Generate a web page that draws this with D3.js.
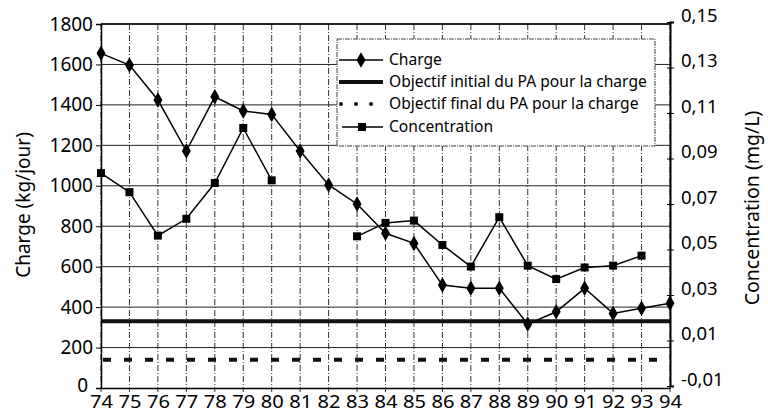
<!DOCTYPE html>
<html><head><meta charset="utf-8">
<script src="https://cdn.jsdelivr.net/npm/d3@7"></script>
<style>
body{margin:0;background:#fff;}
svg{display:block;font-family:"Noto Sans",sans-serif;}
</style></head>
<body><svg id="c" width="768" height="415"></svg>
<script>
const years = ["74","75","76","77","78","79","80","81","82","83","84","85","86","87","88","89","90","91","92","93","94"];
const charge = [1655,1597,1424,1172,1440,1370,1353,1172,1004,910,765,715,509,493,493,316,377,493,369,394,419];
const concentration = [0.0836,0.0752,0.0561,0.0635,0.0792,0.1034,0.0804,null,null,0.0558,0.0617,0.0627,0.052,0.0425,0.0642,0.0429,0.037,0.0421,0.0429,0.0473,null];
const objectifInitial = 330;
const objectifFinal = 140;
const leftTicks = [0,200,400,600,800,1000,1200,1400,1600,1800];
const rightTicks = [-0.01,0.01,0.03,0.05,0.07,0.09,0.11,0.13,0.15];
const legendLabels = ["Charge","Objectif initial du PA pour la charge","Objectif final du PA pour la charge","Concentration"];

const svg = d3.select("#c");
const x = d3.scalePoint().domain(years).range([101,670]);
const yL = d3.scaleLinear().domain([0,1800]).range([388,24]);
const yR = d3.scaleLinear().domain([-0.01,0.15]).range([386,22]);

// horizontal gridlines
svg.append("g").selectAll("line").data(leftTicks.filter(d=>d>0)).join("line")
  .attr("x1",101).attr("x2",670).attr("y1",d=>yL(d)).attr("y2",d=>yL(d))
  .attr("stroke","#222").attr("stroke-width",1);
// vertical dash-dot gridlines
svg.append("g").selectAll("line").data(years).join("line")
  .attr("x1",d=>x(d)).attr("x2",d=>x(d)).attr("y1",24).attr("y2",392)
  .attr("stroke","#333").attr("stroke-width",1).attr("stroke-dasharray","6,2,1,2");

// objectives
svg.append("line").attr("x1",101).attr("x2",670).attr("y1",yL(objectifInitial)).attr("y2",yL(objectifInitial))
  .attr("stroke","#111").attr("stroke-width",4);
svg.append("line").attr("x1",103).attr("x2",670).attr("y1",yL(objectifFinal)).attr("y2",yL(objectifFinal))
  .attr("stroke","#111").attr("stroke-width",4).attr("stroke-dasharray","8,13");

// axes
const axL = svg.append("g").attr("transform","translate(101,0)")
  .call(d3.axisLeft(yL).tickValues(leftTicks).tickSize(5).tickFormat(d3.format("d")));
axL.select(".domain").attr("stroke","#000").attr("stroke-width",1.5);
axL.selectAll("text").attr("font-size",19).attr("font-family","Noto Sans").attr("fill","#000").attr("x",-8);
axL.selectAll(".tick").filter(d=>d===0).select("text").attr("x",-13).attr("dy","0.2em");

const axR = svg.append("g").attr("transform","translate(670,0)")
  .call(d3.axisRight(yR).tickValues(rightTicks).tickSize(4).tickFormat(d=>d3.format(".2f")(d).replace(".",",").replace("−","-")));
axR.select(".domain").attr("stroke","#000").attr("stroke-width",2);
axR.selectAll(".tick line").attr("x1",-3);
axR.selectAll("text").attr("font-size",18.5).attr("font-family","Noto Sans").attr("fill","#000").attr("x",11).attr("dy","-0.05em");

const axB = svg.append("g").attr("transform","translate(0,388)")
  .call(d3.axisBottom(x).tickSize(0).tickPadding(7));
axB.select(".domain").attr("stroke","#000").attr("stroke-width",1.5);
axB.selectAll("text").attr("font-size",18).attr("font-family","Noto Sans").attr("fill","#000").attr("textLength",23).attr("lengthAdjust","spacingAndGlyphs");

// top border
svg.append("line").attr("x1",101).attr("x2",670).attr("y1",24).attr("y2",24).attr("stroke","#000").attr("stroke-width",1.5);

// axis titles
svg.append("text").attr("transform","translate(30,205) rotate(-90)").attr("text-anchor","middle")
  .attr("font-size",19).text("Charge (kg/jour)");
svg.append("text").attr("transform","translate(759,208) rotate(-90)").attr("text-anchor","middle")
  .attr("font-size",19.5).text("Concentration (mg/L)");

// series lines
const lineC = d3.line().x((d,i)=>x(years[i])).y(d=>yL(d));
svg.append("path").datum(charge).attr("d",lineC).attr("fill","none").attr("stroke","#000").attr("stroke-width",1.5);
const lineK = d3.line().defined(d=>d!==null).x((d,i)=>x(years[i])).y(d=>yR(d));
svg.append("path").datum(concentration).attr("d",lineK).attr("fill","none").attr("stroke","#000").attr("stroke-width",1.5);

// markers
const diamond = d3.symbol().type(d3.symbolDiamond).size(70);
svg.append("g").selectAll("path").data(charge).join("path")
  .attr("transform",(d,i)=>`translate(${x(years[i])},${yL(d)})`).attr("d",diamond).attr("fill","#000");
const square = d3.symbol().type(d3.symbolSquare).size(64);
svg.append("g").selectAll("path").data(concentration.map((v,i)=>({v,i})).filter(d=>d.v!==null)).join("path")
  .attr("transform",d=>`translate(${x(years[d.i])},${yR(d.v)})`).attr("d",square).attr("fill","#000");

// legend
const lg = svg.append("g");
lg.append("rect").attr("x",337).attr("y",39).attr("width",318).attr("height",107)
  .attr("fill","#fff").attr("stroke","#444").attr("stroke-width",1).attr("stroke-dasharray","5,1,1,1");
const ly = [60,82,104,127];
lg.selectAll("text").data(legendLabels).join("text")
  .attr("x",389).attr("y",(d,i)=>ly[i]).attr("dy","0.35em").attr("font-size",15.6).attr("fill","#000")
  .text(d=>d);
lg.append("line").attr("x1",339).attr("x2",383).attr("y1",ly[0]).attr("y2",ly[0]).attr("stroke","#000").attr("stroke-width",1.5);
lg.append("path").attr("transform",`translate(361,${ly[0]})`).attr("d",diamond);
lg.append("line").attr("x1",339).attr("x2",383).attr("y1",ly[1]).attr("y2",ly[1]).attr("stroke","#111").attr("stroke-width",4);
lg.append("line").attr("x1",341).attr("x2",383).attr("y1",ly[2]).attr("y2",ly[2]).attr("stroke","#111").attr("stroke-width",4).attr("stroke-linecap","round").attr("stroke-dasharray","0,15");
lg.append("line").attr("x1",342).attr("x2",383).attr("y1",ly[3]).attr("y2",ly[3]).attr("stroke","#000").attr("stroke-width",1.5);
lg.append("path").attr("transform",`translate(362,${ly[3]})`).attr("d",square);
</script></body></html>
